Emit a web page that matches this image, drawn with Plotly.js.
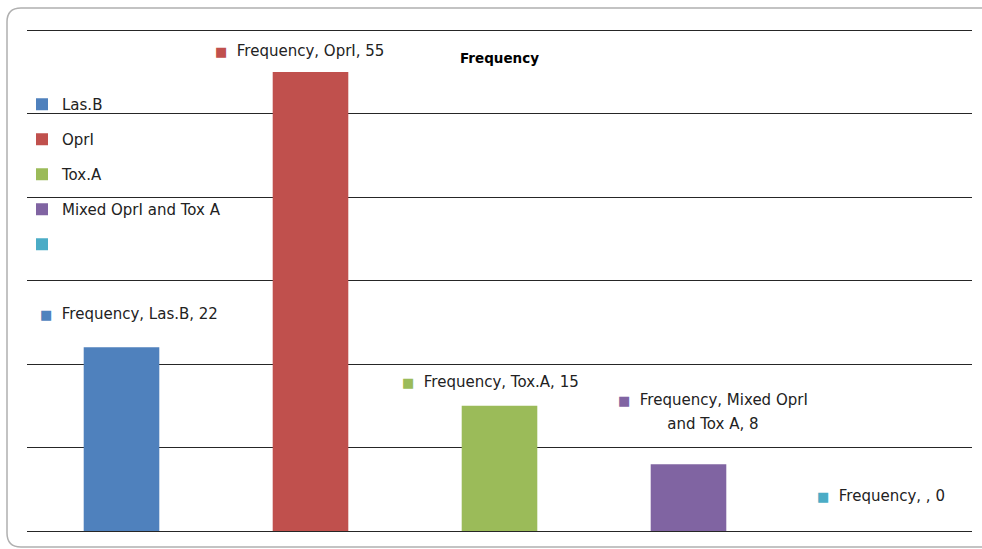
<!DOCTYPE html>
<html>
<head>
<meta charset="utf-8">
<script src="https://cdn.plot.ly/plotly-3.0.1.min.js"></script>
<style>
  html, body { margin: 0; padding: 0; background: #ffffff; }
  #chart { width: 982px; height: 549px; }
</style>
</head>
<body>
<div id="chart"></div>
<script>
// ---- data ----
const seriesName = 'Frequency';
const categories = ['Las.B', 'OprI', 'Tox.A', 'Mixed OprI and Tox A', ''];
const values = [22, 55, 15, 8, 0];

// ---- styles ----
const colors = ['#4F81BD', '#C0504D', '#9BBB59', '#8064A2', '#4BACC6'];
const labelShift = [[7, 33], [-11, 21], [-9, 24], [24, 52], [3, 35]]; // px offsets of data labels
const W = 982, H = 549;
const M = {l: 27, r: 10, t: 26, b: 18};
const plotW = W - M.l - M.r, plotH = H - M.t - M.b;
const fontFam = '"DejaVu Sans", Verdana, sans-serif';

const traces = categories.map((c, i) => ({
  type: 'bar',
  x: [i],
  y: [values[i]],
  name: c,
  legendgroup: 'g' + i,
  width: 0.4,
  marker: {color: colors[i], line: {width: 0}},
  hoverinfo: 'name+y'
}));

function wrapLabel(s) {
  if (s.length > 26) {
    const k = s.indexOf(' and ');
    if (k > 0) return s.slice(0, k) + '<br>' + s.slice(k + 1);
  }
  return s;
}

const annotations = categories.map((c, i) => ({
  x: i, y: values[i], xref: 'x', yref: 'y',
  text: '<span style="font-size:15px"><span style="color:' + colors[i] + ';font-size:13px">■</span>  ' +
        wrapLabel(seriesName + ', ' + c + ', ' + values[i]) + '</span>',
  showarrow: false,
  xshift: labelShift[i][0], yshift: labelShift[i][1],
  xanchor: 'center', yanchor: 'middle',
  align: 'center',
  font: {family: fontFam, size: 18.5, color: '#222'}
}));

// rounded frame in paper coordinates
function px(x) { return (x - M.l) / plotW; }
function py(y) { return (H - M.b - y) / plotH; }
const fx0 = 7, fy0 = 8, fx1 = 995, fy1 = 547, r = 14;
const framePath = [
  'M', px(fx0 + r), py(fy0),
  'L', px(fx1 - r), py(fy0),
  'Q', px(fx1), py(fy0), px(fx1), py(fy0 + r),
  'L', px(fx1), py(fy1 - r),
  'Q', px(fx1), py(fy1), px(fx1 - r), py(fy1),
  'L', px(fx0 + r), py(fy1),
  'Q', px(fx0), py(fy1), px(fx0), py(fy1 - r),
  'L', px(fx0), py(fy0 + r),
  'Q', px(fx0), py(fy0), px(fx0 + r), py(fy0), 'Z'
].join(' ');

const layout = {
  width: W, height: H,
  margin: M,
  paper_bgcolor: '#ffffff',
  plot_bgcolor: '#ffffff',
  barmode: 'overlay',
  title: {
    text: '<b>' + seriesName + '</b>',
    x: 0.5, xref: 'paper', xanchor: 'center',
    y: 1 - 58 / H, yref: 'container', yanchor: 'middle',
    font: {family: fontFam, size: 13.5, color: '#000'}
  },
  xaxis: {
    range: [-0.5, categories.length - 0.5],
    showgrid: false, zeroline: false, showticklabels: false, ticks: '', showline: false,
    fixedrange: true
  },
  yaxis: {
    range: [0, 60.5], dtick: 10, tick0: 0,
    showgrid: true, gridcolor: '#262626', gridwidth: 1,
    zeroline: true, zerolinecolor: '#262626', zerolinewidth: 1,
    showticklabels: false, ticks: '', showline: false,
    fixedrange: true
  },
  showlegend: true,
  legend: {
    x: px(22), xanchor: 'left',
    y: py(88), yanchor: 'top',
    traceorder: 'grouped',
    tracegroupgap: 12.5,
    bgcolor: 'rgba(0,0,0,0)',
    font: {family: fontFam, size: 15, color: '#222'},
    itemwidth: 30
  },
  annotations: annotations,
  shapes: [{
    type: 'path', xref: 'paper', yref: 'paper', path: framePath,
    line: {color: '#b0b0b0', width: 1.5}, layer: 'below'
  }]
};

Plotly.newPlot('chart', traces, layout, {displayModeBar: false, staticPlot: true});
</script>
</body>
</html>
